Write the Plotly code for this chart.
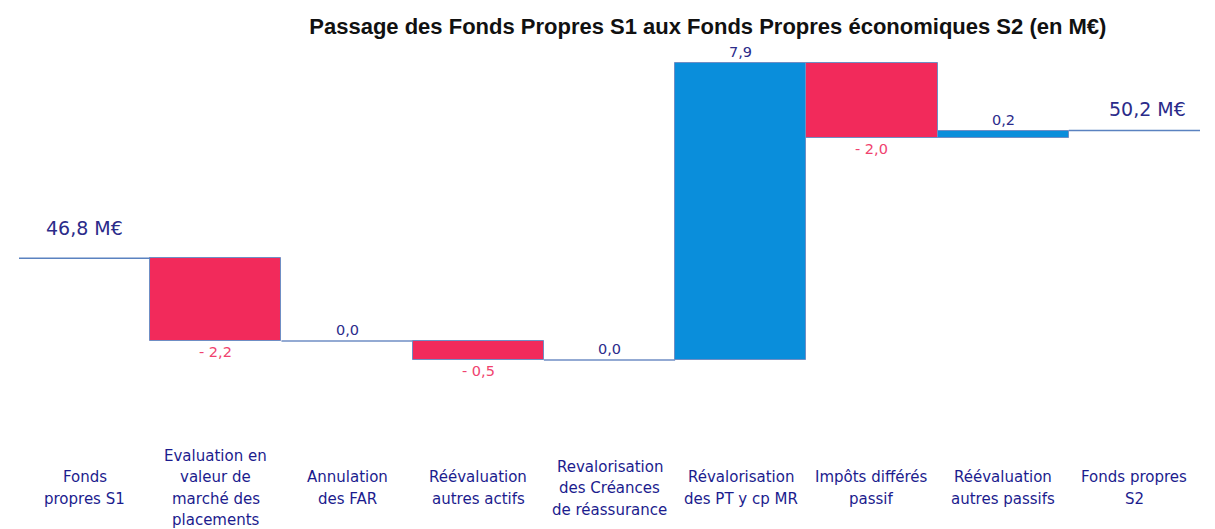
import numpy as np
import plotly.graph_objects as go

# ---- data ----
categories = [
    "Fonds<br>propres S1",
    "Evaluation en<br>valeur de<br>marché des<br>placements",
    "Annulation<br>des FAR",
    "Réévaluation<br>autres actifs",
    "Revalorisation<br>des Créances<br>de réassurance",
    "Révalorisation<br>des PT y cp MR",
    "Impôts différés<br>passif",
    "Réévaluation<br>autres passifs",
    "Fonds propres<br>S2",
]
start_value = 46.8
deltas = [-2.2, 0.0, -0.5, 0.0, 7.9, -2.0, 0.2]
end_value = 50.2
title = "Passage des Fonds Propres S1 aux Fonds Propres économiques S2 (en M€)"

# ---- styles ----
RED = "#F22A5B"
BLUE = "#0A8EDB"
EDGE = "#6F8EC4"
TOTAL_LINE = "#5A82C0"
NAVY = "#2B2B8A"
RED_TXT = "#F0426E"
LABEL = "#1C1C8E"


def fr(v):
    s = f"{abs(v):.1f}".replace(".", ",")
    if v < 0:
        return "- " + s
    return s


n = len(categories)
cum = np.concatenate([[start_value], start_value + np.cumsum(deltas)])
bases = cum[:-1]

fig = go.Figure()

for i, d in enumerate(deltas):
    xi = i + 1
    b = bases[i]
    if d != 0:
        fig.add_trace(go.Bar(
            x=[xi], y=[d], base=[b], width=[1.0],
            marker=dict(color=RED if d < 0 else BLUE,
                        line=dict(color=EDGE, width=1)),
            hoverinfo="skip", showlegend=False,
        ))
    else:
        fig.add_trace(go.Scatter(
            x=[xi - 0.5, xi + 0.5], y=[b, b], mode="lines",
            line=dict(color=EDGE, width=1.5),
            hoverinfo="skip", showlegend=False,
        ))
    top = max(b, b + d)
    bot = min(b, b + d)
    if d >= 0:
        fig.add_annotation(x=xi, y=top, text=fr(d), showarrow=False,
                           yanchor="middle", yshift=11,
                           font=dict(family="DejaVu Sans", size=14.5, color=NAVY))
    else:
        fig.add_annotation(x=xi, y=bot, text=fr(d), showarrow=False,
                           yanchor="middle", yshift=-11,
                           font=dict(family="DejaVu Sans", size=14.5, color=RED_TXT))

# total lines
for xi, v, shift, dx in [(0, start_value, 30, 0), (n - 1, end_value, 22, 0.1)]:
    fig.add_trace(go.Scatter(
        x=[xi - 0.5, xi + 0.5], y=[v, v], mode="lines",
        line=dict(color=TOTAL_LINE, width=1.5),
        hoverinfo="skip", showlegend=False,
    ))
    fig.add_annotation(x=xi + dx, y=v, text=fr(v) + " M€", showarrow=False,
                       yanchor="middle", yshift=shift,
                       font=dict(family="DejaVu Sans", size=19, color=NAVY))

# category labels (one annotation per line for the original line spacing)
LINE_H = 21.5
for i, lab in enumerate(categories):
    lines = lab.split("<br>")
    k = len(lines)
    for j, ln in enumerate(lines):
        off = (j - (k - 1) / 2) * LINE_H
        fig.add_annotation(x=i, y=0, yref="paper", text=ln, showarrow=False,
                           yanchor="middle", yshift=-48 - off,
                           font=dict(family="DejaVu Sans", size=15, color=LABEL))

fig.update_layout(
    width=1215, height=529,
    margin=dict(l=11, r=23, t=33, b=97),
    paper_bgcolor="white", plot_bgcolor="white",
    barmode="overlay", bargap=0,
    title=dict(text="<b>" + title + "</b>", x=0.576, xanchor="center",
               y=0.965, yanchor="middle",
               font=dict(family="Liberation Sans", size=22, color="#111111")),
    xaxis=dict(range=[-0.5, n - 0.5], visible=False, fixedrange=True),
    yaxis=dict(range=[41.97, 52.58], visible=False, fixedrange=True),
)

fig.write_html("out.html")
